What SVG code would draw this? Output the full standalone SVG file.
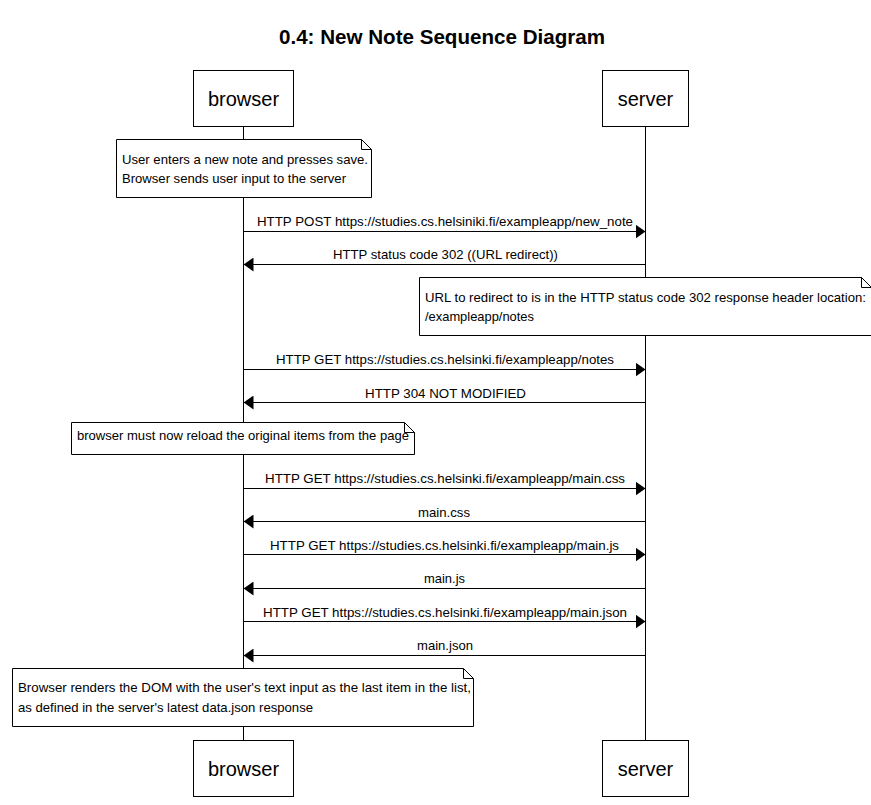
<svg xmlns="http://www.w3.org/2000/svg" width="871" height="805" viewBox="0 0 871 805">
<defs>
<marker id="ah" viewBox="0 0 10 14" refX="10" refY="7" markerWidth="10" markerHeight="14" markerUnits="userSpaceOnUse" orient="auto">
<path d="M0,0 L10,7 L0,14 z" fill="#000"/>
</marker>
</defs>
<style>
text{font-family:"Liberation Sans",Arial,sans-serif;fill:#000}
.title{font-size:20.5px;font-weight:bold;text-anchor:middle}
.actor rect{fill:#fff;stroke:#000;stroke-width:1}
.actor text{font-size:20px;text-anchor:middle}
.life{stroke:#000;stroke-width:1}
.msg line{stroke:#000;stroke-width:1;marker-end:url(#ah)}
.msg text{font-size:13px;text-anchor:middle}
.note path{fill:#fff;stroke:#000;stroke-width:1}
.note text{font-size:13px}
</style>
<rect width="871" height="805" fill="#fff"/>
<text class="title" x="442" y="44" textLength="326" lengthAdjust="spacingAndGlyphs">0.4: New Note Sequence Diagram</text>
<g id="lifelines">
<line class="life" x1="243.5" y1="127" x2="243.5" y2="740"/>
<line class="life" x1="645.5" y1="127" x2="645.5" y2="740"/>
</g>
<g id="browser-top" class="actor"><rect x="193.5" y="70.5" width="100" height="56"/><text x="243.5" y="106">browser</text></g>
<g id="server-top" class="actor"><rect x="602.5" y="70.5" width="86" height="56"/><text x="645.5" y="106">server</text></g>
<g id="browser-bottom" class="actor"><rect x="193.5" y="740.5" width="100" height="56"/><text x="243.5" y="776">browser</text></g>
<g id="server-bottom" class="actor"><rect x="602.5" y="740.5" width="86" height="56"/><text x="645.5" y="776">server</text></g>
<g id="note1" class="note"><path d="M116.5,139.5 H361.5 L371.5,149.5 V197.5 H116.5 Z M361.5,139.5 V149.5 H371.5"/><text x="122" y="164" textLength="246" lengthAdjust="spacingAndGlyphs">User enters a new note and presses save.</text><text x="122" y="183" textLength="224" lengthAdjust="spacingAndGlyphs">Browser sends user input to the server</text></g>
<g id="note2" class="note"><path d="M419.5,277.5 H861.5 L871.5,287.5 V335.5 H419.5 Z M861.5,277.5 V287.5 H871.5"/><text x="425" y="302" textLength="441" lengthAdjust="spacingAndGlyphs">URL to redirect to is in the HTTP status code 302 response header location:</text><text x="425" y="321" textLength="109" lengthAdjust="spacingAndGlyphs">/exampleapp/notes</text></g>
<g id="note3" class="note"><path d="M71.5,422.5 H404.5 L414.5,432.5 V454.5 H71.5 Z M404.5,422.5 V432.5 H414.5"/><text x="77" y="440" textLength="332" lengthAdjust="spacingAndGlyphs">browser must now reload the original items from the page</text></g>
<g id="note4" class="note"><path d="M12.5,668.5 H463.5 L473.5,678.5 V726.5 H12.5 Z M463.5,668.5 V678.5 H473.5"/><text x="18" y="692" textLength="453" lengthAdjust="spacingAndGlyphs">Browser renders the DOM with the user's text input as the last item in the list,</text><text x="18" y="712" textLength="295" lengthAdjust="spacingAndGlyphs">as defined in the server's latest data.json response</text></g>
<g id="connectors" class="msg">
<line x1="243.5" y1="231.5" x2="645.5" y2="231.5"/><text x="445" y="226" textLength="376" lengthAdjust="spacingAndGlyphs">HTTP POST https://studies.cs.helsiniki.fi/exampleapp/new_note</text>
<line x1="645.5" y1="264.5" x2="243.5" y2="264.5"/><text x="445.5" y="259" textLength="225" lengthAdjust="spacingAndGlyphs">HTTP status code 302 ((URL redirect))</text>
<line x1="243.5" y1="369.5" x2="645.5" y2="369.5"/><text x="445" y="364" textLength="338" lengthAdjust="spacingAndGlyphs">HTTP GET https://studies.cs.helsinki.fi/exampleapp/notes</text>
<line x1="645.5" y1="402.5" x2="243.5" y2="402.5"/><text x="445.5" y="398" textLength="161" lengthAdjust="spacingAndGlyphs">HTTP 304 NOT MODIFIED</text>
<line x1="243.5" y1="488.5" x2="645.5" y2="488.5"/><text x="445" y="483" textLength="360" lengthAdjust="spacingAndGlyphs">HTTP GET https://studies.cs.helsinki.fi/exampleapp/main.css</text>
<line x1="645.5" y1="521.5" x2="243.5" y2="521.5"/><text x="444" y="517" textLength="52" lengthAdjust="spacingAndGlyphs">main.css</text>
<line x1="243.5" y1="554.5" x2="645.5" y2="554.5"/><text x="444.5" y="550" textLength="349" lengthAdjust="spacingAndGlyphs">HTTP GET https://studies.cs.helsinki.fi/exampleapp/main.js</text>
<line x1="645.5" y1="588.5" x2="243.5" y2="588.5"/><text x="444.5" y="583" textLength="41" lengthAdjust="spacingAndGlyphs">main.js</text>
<line x1="243.5" y1="621.5" x2="645.5" y2="621.5"/><text x="445" y="617" textLength="364" lengthAdjust="spacingAndGlyphs">HTTP GET https://studies.cs.helsinki.fi/exampleapp/main.json</text>
<line x1="645.5" y1="655.5" x2="243.5" y2="655.5"/><text x="445" y="650" textLength="56" lengthAdjust="spacingAndGlyphs">main.json</text>
</g>
</svg>
